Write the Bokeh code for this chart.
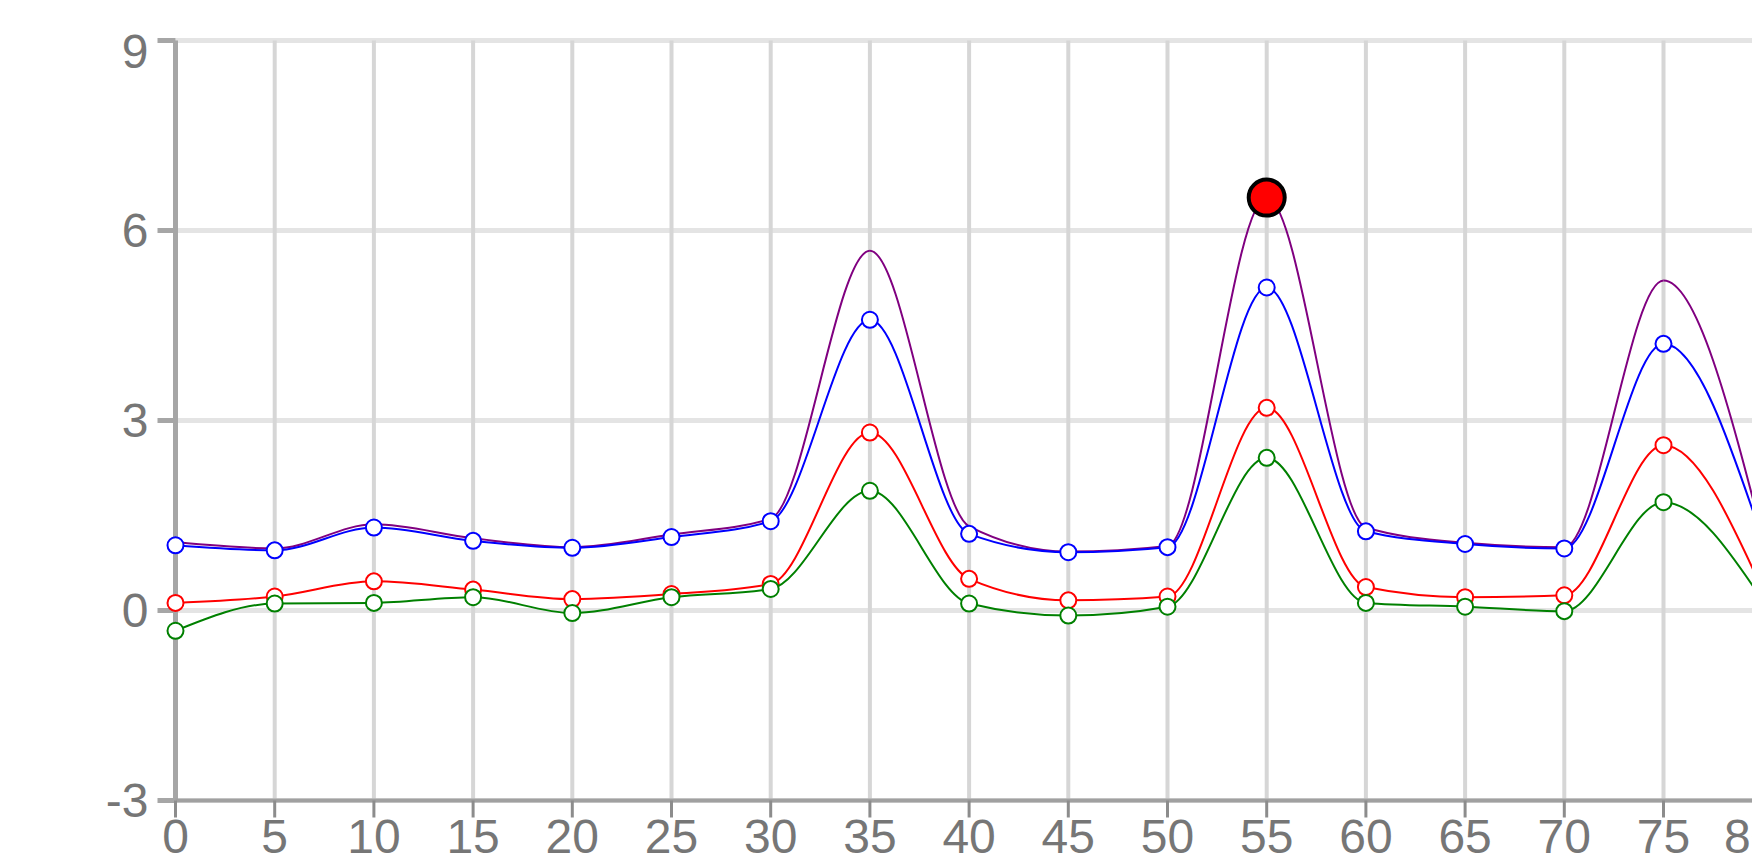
import numpy as np
from bokeh.plotting import figure
from bokeh.models import Range1d, ColumnDataSource
from bokeh.core.properties import value
from bokeh.embed import file_html
from bokeh.resources import INLINE

# ---------------- data ----------------
x_values = [0, 5, 10, 15, 20, 25, 30, 35, 40, 45, 50, 55, 60, 65, 70, 75, 80]
purple = [1.08, 0.98, 1.36, 1.14, 1.00, 1.20, 1.45, 5.68, 1.33, 0.93, 1.02, 6.52, 1.31, 1.07, 1.00, 5.21, 1.17]
blue = [1.03, 0.95, 1.31, 1.10, 0.99, 1.16, 1.41, 4.59, 1.21, 0.92, 1.00, 5.10, 1.25, 1.05, 0.98, 4.21, 1.12]
red = [0.12, 0.22, 0.46, 0.33, 0.18, 0.26, 0.42, 2.81, 0.50, 0.16, 0.22, 3.20, 0.37, 0.21, 0.24, 2.61, 0.32]
green = [-0.32, 0.11, 0.12, 0.21, -0.04, 0.21, 0.34, 1.89, 0.11, -0.08, 0.06, 2.41, 0.12, 0.06, -0.01, 1.71, 0.16]
highlight_index = 11  # x = 55 on the purple series

x_ticks = [0, 5, 10, 15, 20, 25, 30, 35, 40, 45, 50, 55, 60, 65, 70, 75, 80]
x_tick_labels = ["0", "5", "10", "15", "20", "25", "30", "35", "40", "45", "50", "55", "60", "65", "70", "75", "80"]
y_ticks = [-3, 0, 3, 6, 9]
y_tick_labels = ["-3", "0", "3", "6", "9"]
y_min, y_max = -3, 9

FONT = "Liberation Sans"
LABEL_COLOR = "#767676"


def monotone_segments(xs, ys):
    """Cubic Bezier segments of a monotone-X curve through the points."""
    xs = np.asarray(xs, float)
    ys = np.asarray(ys, float)
    n = len(xs)
    h = np.diff(xs)
    s = np.diff(ys) / h
    t = np.zeros(n)

    def sgn(v):
        return -1.0 if v < 0 else 1.0

    for i in range(1, n - 1):
        p = (s[i - 1] * h[i] + s[i] * h[i - 1]) / (h[i - 1] + h[i])
        t[i] = (sgn(s[i - 1]) + sgn(s[i])) * min(abs(s[i - 1]), abs(s[i]), 0.5 * abs(p))
    t[0] = (3 * s[0] - t[1]) / 2
    t[-1] = (3 * s[-1] - t[-2]) / 2
    dx = h / 3.0
    return ColumnDataSource(dict(
        x0=xs[:-1], y0=ys[:-1], x1=xs[1:], y1=ys[1:],
        cx0=xs[:-1] + dx, cy0=ys[:-1] + dx * t[:-1],
        cx1=xs[1:] - dx, cy1=ys[1:] - dx * t[1:],
    ))


# ---------------- geometry ----------------
W, H = 1752, 857
AXIS_PX = 175          # pixel column of the y axis
TOP_PX = 40            # pixel row of the top gridline (y = 9)
LEFT = 90              # frame reaches left of the axis so ticks and labels fit
px_x = 19.84           # pixels per x unit
px_y = 760 / 12.0      # pixels per y unit
x_start = -(AXIS_PX - LEFT) / px_x
x_end = x_start + (W - LEFT) / px_x
y_end = y_max + TOP_PX / px_y
y_start = y_end - H / px_y
xtick_len = 17 / px_y
ytick_len = 18 / px_x

p = figure(width=W, height=H, output_backend="svg", toolbar_location=None,
           x_range=Range1d(x_start, x_end), y_range=Range1d(y_start, y_end),
           x_axis_location=None, y_axis_location=None,
           min_border_left=LEFT, min_border_top=0,
           min_border_bottom=0, min_border_right=0)
p.outline_line_color = None
p.background_fill_color = "white"
p.border_fill_color = "white"
p.xgrid.visible = False
p.ygrid.visible = False

n_x = len(x_ticks)
n_y = len(y_ticks)

# grid lines
p.segment(x0=[0] * n_y, y0=y_ticks, x1=[x_end] * n_y, y1=y_ticks,
          line_color="#e4e4e4", line_width=5)
p.segment(x0=x_ticks, y0=[y_min] * n_x, x1=x_ticks, y1=[y_max] * n_x,
          line_color="#d6d6d6", line_width=4)

# y axis: ticks, line, labels (the top label sits a little lower, as in the reference)
p.segment(x0=[0] * n_y, y0=y_ticks, x1=[-ytick_len] * n_y, y1=y_ticks,
          line_color="#a6a6a6", line_width=5)
p.segment(x0=[0], y0=[y_min], x1=[0], y1=[y_max],
          line_color="#a6a6a6", line_width=5)
ylab_src = ColumnDataSource(dict(
    x=[0] * n_y, y=y_ticks, text=y_tick_labels,
    yo=[11 if t == y_ticks[-1] else 0 for t in y_ticks],
))
p.text(x="x", y="y", text="text", x_offset=-27, y_offset="yo", source=ylab_src,
       text_align="right", text_baseline="middle",
       text_font=value(FONT), text_font_size="48px", text_color=LABEL_COLOR)

# x axis line, ticks and labels
p.segment(x0=[0], y0=[y_min], x1=[x_end], y1=[y_min],
          line_color="#a0a0a0", line_width=4)
p.segment(x0=x_ticks, y0=[y_min] * n_x, x1=x_ticks, y1=[y_min - xtick_len] * n_x,
          line_color="#8c8c8c", line_width=3)
xlab_src = ColumnDataSource(dict(
    x=x_ticks, y=[y_min] * n_x, text=x_tick_labels,
    xo=[-12 if t == x_ticks[-1] else 0 for t in x_ticks],
))
p.text(x="x", y="y", text="text", x_offset="xo", y_offset=19, source=xlab_src,
       text_align="center", text_baseline="top",
       text_font=value(FONT), text_font_size="48px", text_color=LABEL_COLOR)

# ---------------- series ----------------
series = [(purple, "#800080", False), (blue, "#0000ff", True),
          (red, "#ff0000", True), (green, "#008000", True)]
for ys, col, markers in series:
    src = monotone_segments(x_values, ys)
    p.bezier(x0="x0", y0="y0", x1="x1", y1="y1", cx0="cx0", cy0="cy0",
             cx1="cx1", cy1="cy1", source=src, line_color=col, line_width=2)
    if markers:
        p.scatter(x_values, ys, size=16, fill_color="white", line_color=col,
                  line_width=2)

p.scatter([x_values[highlight_index]], [purple[highlight_index]], size=36,
          fill_color="#ff0000", line_color="black", line_width=4)

open("out.html", "w").write(file_html(p, INLINE))
